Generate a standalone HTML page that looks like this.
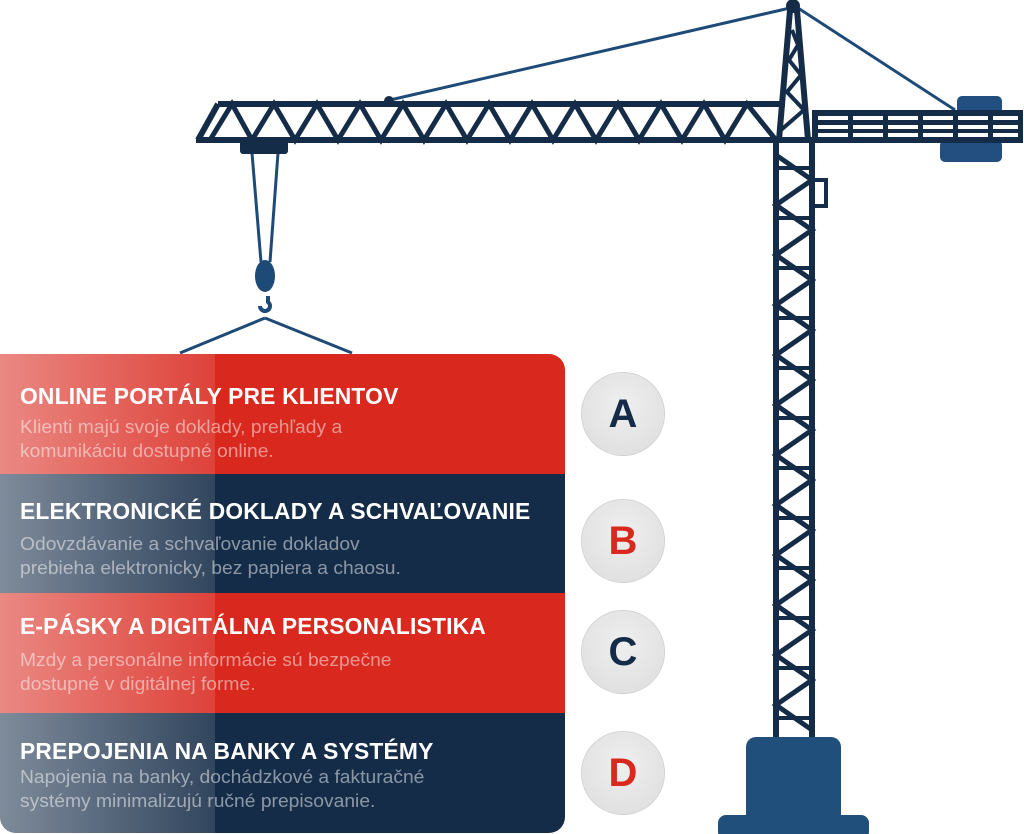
<!DOCTYPE html>
<html><head><meta charset="utf-8"><style>
body{margin:0;width:1024px;height:834px;background:#fff;position:relative;overflow:hidden;font-family:"Liberation Sans",sans-serif}
.panel{position:absolute;left:0;top:354px;width:565px;height:479px;border-radius:0 16px 16px 16px;overflow:hidden}
.row{position:absolute;left:0;width:565px;height:120px}
.red{background:#d9281e}.nav{background:#152c48}
.ov{position:absolute;left:0;top:0;width:215px;height:479px;background:linear-gradient(90deg,rgba(255,255,255,0.45),rgba(255,255,255,0.12))}
.h{position:absolute;left:20px;color:#fff;font-weight:bold;font-size:23.5px;letter-spacing:0.2px;white-space:nowrap;transform:scaleX(0.97);transform-origin:left}
.s{position:absolute;left:20px;color:rgba(255,255,255,0.5);font-size:18px;line-height:24px;white-space:nowrap;transform:scaleX(1.07);transform-origin:left}
.c{position:absolute;left:582px;width:82px;height:82px;border-radius:50%;background:radial-gradient(circle at 50% 40%,#efefef,#dcdcdc);box-shadow:0 0 0 1px #d0d0d0;font-weight:bold;font-size:40px;text-align:center;line-height:82px}
</style></head><body>
<svg width="1024" height="834" style="position:absolute;left:0;top:0">
<g stroke="#1e4a78" stroke-width="3" fill="none">
<line x1="390" y1="100" x2="790" y2="8"/>
<line x1="798" y1="8" x2="955" y2="110"/>
<line x1="252" y1="153" x2="261" y2="262"/>
<line x1="278" y1="153" x2="270" y2="262"/>
<line x1="265" y1="318" x2="180" y2="353"/>
<line x1="265" y1="318" x2="352" y2="353"/>
<path d="M268 296 v6 a5 5 0 1 1 -8 4" stroke-width="4"/>
</g>
<ellipse cx="265" cy="276" rx="10" ry="16" fill="#1e4a78"/>
<circle cx="793" cy="6" r="7" fill="#152c48"/>
<circle cx="389" cy="101" r="5" fill="#152c48"/>
<rect x="957" y="96" width="45" height="20" rx="5" fill="#224f80"/>
<rect x="940" y="140" width="62" height="22" rx="5" fill="#224f80"/>
<rect x="240" y="140" width="48" height="14" rx="3" fill="#152c48"/>
<rect x="812" y="110" width="211" height="33" fill="#152c48"/>
<g stroke="#152c48" stroke-width="6" fill="none" stroke-linejoin="miter">
<line x1="218" y1="104" x2="785" y2="104"/>
<line x1="196" y1="140" x2="1022" y2="140"/>
<line x1="218" y1="104" x2="198" y2="140"/>
<path d="M210 140 L232 104 L252 140 L274 104 L295 140 L317 104 L338 140 L360 104 L381 140 L403 104 L424 140 L446 104 L467 140 L489 104 L510 140 L532 104 L553 140 L575 104 L596 140 L618 104 L639 140 L661 104 L682 140 L704 104 L725 140 L747 104 L776 140" stroke-width="5"/>
<line x1="790" y1="10" x2="779" y2="140"/>
<line x1="797" y1="10" x2="808" y2="140"/>
<path d="M792 30 L798 45 L789 60 L801 75 L787 92 L804 110 L781 130" stroke-width="4"/>
<line x1="776" y1="140" x2="776" y2="740"/>
<line x1="812" y1="140" x2="812" y2="740"/>
<rect x="812" y="180" width="14" height="26" stroke-width="4"/>
<path d="M776 155 L812 180 L776 205 L812 230 L776 255 L812 280 L776 305 L812 330 L776 355 L812 380 L776 405 L812 430 L776 455 L812 480 L776 505 L812 530 L776 555 L812 580 L776 605 L812 630 L776 655 L812 680 L776 705 L812 730" stroke-width="5"/>
<path d="M776 168 H812 M776 218 H812 M776 268 H812 M776 318 H812 M776 368 H812 M776 418 H812 M776 468 H812 M776 518 H812 M776 568 H812 M776 618 H812 M776 668 H812 M776 718 H812" stroke-width="4"/>
</g>
<g stroke="#fff" stroke-width="4" stroke-dasharray="30 5">
<line x1="818" y1="118" x2="1018" y2="118"/>
<line x1="818" y1="127" x2="1018" y2="127"/>
<line x1="818" y1="135" x2="1018" y2="135"/>
</g>
<rect x="746" y="737" width="95" height="100" rx="10" fill="#204f7c"/>
<rect x="718" y="815" width="151" height="25" rx="8" fill="#204f7c"/>
</svg>
<div class="panel">
<div class="row red" style="top:0"></div>
<div class="row nav" style="top:120px"></div>
<div class="row red" style="top:239px"></div>
<div class="row nav" style="top:359px"></div>
<div class="ov"></div>
</div>
<div class="h" style="top:383px">ONLINE PORTÁLY PRE KLIENTOV</div>
<div class="s" style="top:415px">Klienti majú svoje doklady, prehľady a<br>komunikáciu dostupné online.</div>
<div class="h" style="top:498px">ELEKTRONICKÉ DOKLADY A SCHVAĽOVANIE</div>
<div class="s" style="top:532px">Odovzdávanie a schvaľovanie dokladov<br>prebieha elektronicky, bez papiera a chaosu.</div>
<div class="h" style="top:613px">E-PÁSKY A DIGITÁLNA PERSONALISTIKA</div>
<div class="s" style="top:648px">Mzdy a personálne informácie sú bezpečne<br>dostupné v digitálnej forme.</div>
<div class="h" style="top:738px">PREPOJENIA NA BANKY A SYSTÉMY</div>
<div class="s" style="top:765px">Napojenia na banky, dochádzkové a fakturačné<br>systémy minimalizujú ručné prepisovanie.</div>
<div class="c" style="top:373px;color:#152c48">A</div>
<div class="c" style="top:500px;color:#d9281e">B</div>
<div class="c" style="top:611px;color:#152c48">C</div>
<div class="c" style="top:732px;color:#d9281e">D</div>
</body></html>
